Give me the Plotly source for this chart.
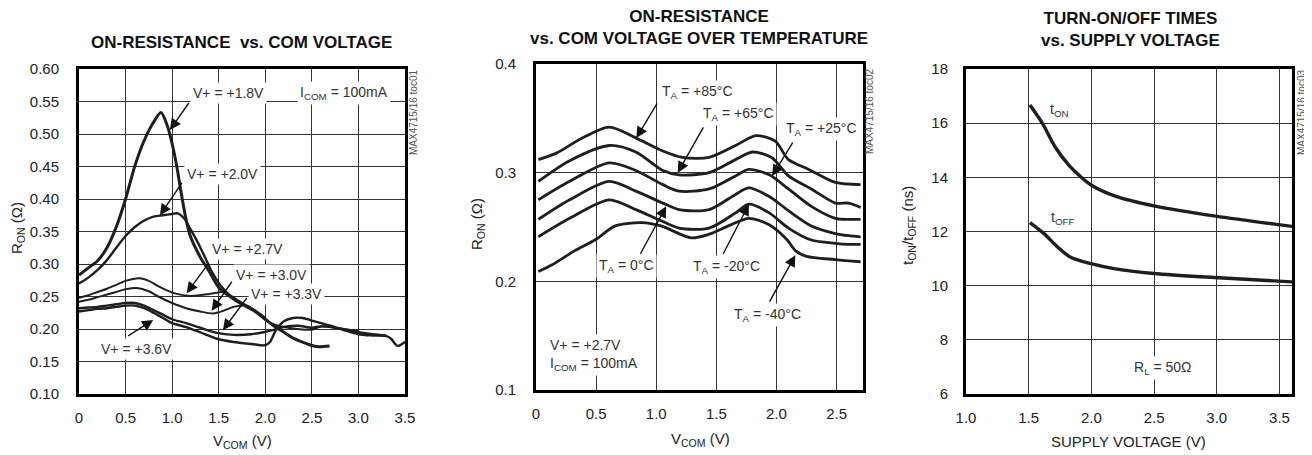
import plotly.graph_objects as go

# The page body has an 8px margin; the figure is sized/offset so the screen matches the reference.
SCREEN_W, SCREEN_H = 1312, 455
OFF = 8
W, H = SCREEN_W - OFF, SCREEN_H - OFF
FONT = "Liberation Sans, Arial, Helvetica, sans-serif"
LINE = "#1e1e1e"

# ---------------- Panel 1: ON-RESISTANCE vs. COM VOLTAGE ----------------
v18 = [0, 0.1, 0.2, 0.3, 0.4, 0.5, 0.6, 0.7, 0.8, 0.88, 0.95, 1.0, 1.05, 1.1, 1.15, 1.2, 1.3, 1.4, 1.5, 1.62, 1.75, 1.87, 2.0, 2.1, 2.2, 2.3, 2.45, 2.55, 2.69]
r18 = [0.283, 0.294, 0.305, 0.325, 0.357, 0.400, 0.451, 0.490, 0.518, 0.533, 0.512, 0.485, 0.450, 0.407, 0.368, 0.341, 0.311, 0.288, 0.264, 0.250, 0.238, 0.229, 0.215, 0.204, 0.195, 0.186, 0.177, 0.173, 0.174]

v20 = [0, 0.1, 0.2, 0.3, 0.4, 0.5, 0.6, 0.7, 0.8, 0.9, 1.0, 1.06, 1.13, 1.2, 1.28, 1.35, 1.42, 1.5, 1.55, 1.62, 1.75, 1.87, 2.0]
r20 = [0.270, 0.279, 0.291, 0.306, 0.325, 0.343, 0.357, 0.367, 0.373, 0.375, 0.377, 0.378, 0.370, 0.353, 0.332, 0.311, 0.290, 0.271, 0.262, 0.252, 0.240, 0.230, 0.217]

v27 = [0, 0.1, 0.2, 0.3, 0.4, 0.5, 0.65, 0.75, 0.85, 0.95, 1.05, 1.17, 1.3, 1.4, 1.5, 1.56]
r27 = [0.248, 0.252, 0.257, 0.262, 0.268, 0.274, 0.278, 0.274, 0.266, 0.259, 0.254, 0.251, 0.252, 0.254, 0.256, 0.258]

v30 = [0, 0.1, 0.2, 0.3, 0.4, 0.5, 0.62, 0.75, 0.85, 1.0, 1.15, 1.3, 1.44, 1.55, 1.66, 1.8, 1.95, 2.05, 2.2, 2.35, 2.5, 2.6, 2.75, 2.9, 3.0]
r30 = [0.242, 0.245, 0.249, 0.253, 0.257, 0.261, 0.263, 0.258, 0.250, 0.240, 0.232, 0.227, 0.224, 0.228, 0.234, 0.236, 0.222, 0.210, 0.203, 0.200, 0.199, 0.204, 0.202, 0.199, 0.197]

v33 = [0, 0.1, 0.2, 0.3, 0.4, 0.5, 0.6, 0.7, 0.8, 0.9, 1.0, 1.15, 1.3, 1.48, 1.66, 1.85, 1.98, 2.1, 2.2, 2.35, 2.5, 2.6, 2.75, 3.0, 3.15, 3.3]
r33 = [0.232, 0.233, 0.234, 0.236, 0.238, 0.240, 0.240, 0.236, 0.229, 0.222, 0.215, 0.209, 0.202, 0.194, 0.191, 0.192, 0.195, 0.199, 0.203, 0.205, 0.202, 0.204, 0.202, 0.195, 0.192, 0.190]

v36 = [0, 0.1, 0.2, 0.3, 0.4, 0.5, 0.6, 0.7, 0.8, 0.9, 1.0, 1.15, 1.3, 1.48, 1.66, 1.85, 2.0, 2.05, 2.12, 2.2, 2.3, 2.4, 2.5, 2.6, 2.7, 2.85, 3.0, 3.15, 3.3, 3.35, 3.42, 3.5]
r36 = [0.227, 0.229, 0.231, 0.232, 0.234, 0.236, 0.236, 0.232, 0.225, 0.217, 0.209, 0.203, 0.195, 0.185, 0.180, 0.177, 0.175, 0.180, 0.200, 0.212, 0.217, 0.217, 0.213, 0.209, 0.205, 0.198, 0.192, 0.190, 0.189, 0.185, 0.174, 0.180]

# ---------------- Panel 2: over temperature ----------------
vT = [0.02, 0.28, 0.61, 0.83, 1.055, 1.19, 1.44, 1.66, 1.77, 1.94, 2.10, 2.29, 2.49, 2.60, 2.70]
v85 = [0.02, 0.17, 0.37, 0.61, 0.83, 1.055, 1.22, 1.44, 1.66, 1.83, 1.99, 2.10, 2.27, 2.49, 2.70]
r85 = [0.312, 0.318, 0.331, 0.342, 0.332, 0.320, 0.314, 0.314, 0.325, 0.334, 0.329, 0.312, 0.303, 0.291, 0.289]
v65 = [0.02, 0.28, 0.61, 0.83, 1.055, 1.19, 1.44, 1.66, 1.80, 1.96, 2.10, 2.29, 2.49, 2.60, 2.70]
r65 = [0.292, 0.311, 0.325, 0.319, 0.302, 0.298, 0.300, 0.312, 0.319, 0.314, 0.297, 0.285, 0.272, 0.272, 0.268]
r25 = [0.275, 0.292, 0.309, 0.302, 0.289, 0.283, 0.285, 0.297, 0.303, 0.298, 0.285, 0.269, 0.258, 0.257, 0.257]
r0 = [0.257, 0.275, 0.292, 0.283, 0.272, 0.266, 0.266, 0.280, 0.286, 0.278, 0.265, 0.251, 0.244, 0.242, 0.241]
rm20 = [0.241, 0.258, 0.275, 0.266, 0.255, 0.249, 0.249, 0.263, 0.271, 0.263, 0.249, 0.238, 0.235, 0.234, 0.234]
vm40 = [0.02, 0.13, 0.32, 0.49, 0.66, 0.88, 1.04, 1.29, 1.43, 1.62, 1.77, 1.94, 2.09, 2.16, 2.25, 2.49, 2.70]
rm40 = [0.209, 0.215, 0.228, 0.238, 0.251, 0.254, 0.251, 0.240, 0.243, 0.252, 0.258, 0.252, 0.238, 0.228, 0.223, 0.220, 0.218]

# ---------------- Panel 3: turn-on/off times ----------------
v_on = [1.51, 1.61, 1.71, 1.82, 1.93, 2.0, 2.19, 2.51, 2.99, 3.6]
t_on = [16.67, 15.99, 15.13, 14.45, 13.96, 13.71, 13.31, 12.94, 12.57, 12.19]
v_off = [1.51, 1.62, 1.73, 1.83, 1.99, 2.18, 2.50, 2.98, 3.6]
t_off = [12.33, 11.93, 11.43, 11.06, 10.82, 10.63, 10.45, 10.30, 10.14]

x1_ticks = [0, 0.5, 1.0, 1.5, 2.0, 2.5, 3.0, 3.5]
x1_text = ["0", "0.5", "1.0", "1.5", "2.0", "2.5", "3.0", "3.5"]
y1_ticks = [0.10, 0.15, 0.20, 0.25, 0.30, 0.35, 0.40, 0.45, 0.50, 0.55, 0.60]
y1_text = ["0.10", "0.15", "0.20", "0.25", "0.30", "0.35", "0.40", "0.45", "0.50", "0.55", "0.60"]
x2_ticks = [0, 0.5, 1.0, 1.5, 2.0, 2.5]
x2_text = ["0", "0.5", "1.0", "1.5", "2.0", "2.5"]
y2_ticks = [0.1, 0.2, 0.3, 0.4]
y2_text = ["0.1", "0.2", "0.3", "0.4"]
x3_ticks = [1.0, 1.5, 2.0, 2.5, 3.0, 3.5]
x3_text = ["1.0", "1.5", "2.0", "2.5", "3.0", "3.5"]
y3_ticks = [6, 8, 10, 12, 14, 16, 18]
y3_text = ["6", "8", "10", "12", "14", "16", "18"]


def px(x):
    return (x - OFF) / W


def py(y):
    return 1 - (y - OFF) / H


fig = go.Figure()


def line(xs, ys, ax, width=2.2):
    fig.add_trace(go.Scatter(x=xs, y=ys, xaxis="x" + ax, yaxis="y" + ax, mode="lines",
                             line=dict(color=LINE, width=width, shape="spline", smoothing=0.8),
                             hoverinfo="skip", showlegend=False))


line(v36, r36, "", 2.4)
line(v33, r33, "", 2.4)
line(v30, r30, "", 2.0)
line(v27, r27, "", 2.0)
line(v20, r20, "", 2.4)
line(v18, r18, "", 3.0)

for xs, ys in [(v85, r85), (v65, r65), (vT, r25), (vT, r0), (vT, rm20), (vm40, rm40)]:
    line(xs, ys, "2", 2.8)

line(v_on, t_on, "3", 3.4)
line(v_off, t_off, "3", 3.4)

tickfont = dict(family=FONT, size=15, color="#222")
common = dict(showline=True, linewidth=3, linecolor="black", mirror=True, showgrid=True,
              gridcolor="#333", gridwidth=1, zeroline=False, ticks="outside",
              tickcolor="rgba(0,0,0,0)", tickfont=tickfont, fixedrange=True, automargin=False)

fig.update_layout(
    width=W, height=H, margin=dict(l=0, r=0, t=0, b=0, pad=0, autoexpand=False),
    paper_bgcolor="white", plot_bgcolor="white", showlegend=False,
    xaxis=dict(common, domain=[px(79), px(405)], range=[0, 3.5], tickvals=x1_ticks, ticktext=x1_text, ticklen=8, anchor="y"),
    yaxis=dict(common, domain=[py(394), py(69)], range=[0.1, 0.6], tickvals=y1_ticks, ticktext=y1_text, ticklen=14, anchor="x"),
    xaxis2=dict(common, domain=[px(536), px(863)], range=[0, 2.72], tickvals=x2_ticks, ticktext=x2_text, ticklen=8, anchor="y2"),
    yaxis2=dict(common, domain=[py(390), py(64)], range=[0.1, 0.4], tickvals=y2_ticks, ticktext=y2_text, ticklen=14, anchor="x2"),
    xaxis3=dict(common, domain=[px(966), px(1292)], range=[1.0, 3.6], tickvals=x3_ticks, ticktext=x3_text, ticklen=8, anchor="y3"),
    yaxis3=dict(common, domain=[py(394), py(69)], range=[6, 18], tickvals=y3_ticks, ticktext=y3_text, ticklen=12, anchor="x3"),
)

ann = []
TXT = "#333"
LBL = 14


def paper_text(text, x, y, size=15, color=TXT, bold=False, angle=0, xanchor="center"):
    ann.append(dict(text=("<b>%s</b>" % text) if bold else text, x=px(x), y=py(y), xref="paper", yref="paper",
                    showarrow=False, textangle=angle, xanchor=xanchor, yanchor="middle",
                    font=dict(family=FONT, size=size, color=color)))


def data_text(text, x, y, ax, xanchor="center", bg=True, align="center"):
    ann.append(dict(text=text, x=x, y=y, xref="x" + ax, yref="y" + ax, showarrow=False,
                    xanchor=xanchor, yanchor="middle", align=align,
                    bgcolor="white" if bg else None, borderpad=2,
                    font=dict(family=FONT, size=LBL, color=TXT)))


def arrow(hx, hy, tx, ty, ax):
    ann.append(dict(text="", x=hx, y=hy, ax=tx, ay=ty, xref="x" + ax, yref="y" + ax,
                    axref="x" + ax, ayref="y" + ax, showarrow=True, arrowhead=2,
                    arrowsize=1.6, arrowwidth=1.4, arrowcolor="#111", standoff=0, startstandoff=0))


# titles
paper_text("ON-RESISTANCE\u00a0 vs. COM VOLTAGE", 241, 42, size=17, color="#111", bold=True)
paper_text("ON-RESISTANCE<br>vs. COM VOLTAGE OVER TEMPERATURE", 699, 27.5, size=17, color="#111", bold=True)
paper_text("TURN-ON/OFF TIMES<br>vs. SUPPLY VOLTAGE", 1130, 30, size=17, color="#111", bold=True)

# axis titles
paper_text("V<sub>COM</sub> (V)", 242, 441, color="#222")
paper_text("R<sub>ON</sub> (\u03a9)", 17, 228, color="#222", angle=-90)
paper_text("V<sub>COM</sub> (V)", 700, 439, color="#222")
paper_text("R<sub>ON</sub> (\u03a9)", 477, 224, color="#222", angle=-90)
paper_text("SUPPLY VOLTAGE (V)", 1128, 441, color="#222")
paper_text("t<sub>ON</sub>/t<sub>OFF</sub> (ns)", 908, 226, color="#222", angle=-90)

# side codes
paper_text("MAX4715/16 toc01", 413, 113, size=10, color="#555", angle=-90)
paper_text("MAX4715/16 toc02", 870, 112, size=10, color="#555", angle=-90)
paper_text("MAX4715/16 toc03", 1301, 113, size=10, color="#555", angle=-90)

# panel 1 labels
data_text("V+ = +1.8V", 1.60, 0.563, "")
data_text("I<sub>COM</sub> = 100mA", 2.84, 0.563, "")
data_text("V+ = +2.0V", 1.54, 0.438, "")
data_text("V+ = +2.7V", 1.81, 0.323, "")
data_text("V+ = +3.0V", 2.07, 0.283, "")
data_text("V+ = +3.3V", 2.23, 0.254, "")
data_text("V+ = +3.6V", 0.62, 0.169, "")
arrow(0.976, 0.506, 1.19, 0.550, "")
arrow(0.869, 0.375, 1.116, 0.427, "")
arrow(1.156, 0.255, 1.406, 0.304, "")
arrow(1.424, 0.228, 1.652, 0.275, "")
arrow(1.545, 0.198, 1.813, 0.250, "")
arrow(0.797, 0.214, 0.512, 0.188, "")

# panel 2 labels
data_text("T<sub>A</sub> = +85\u00b0C", 1.343, 0.374, "2")
data_text("T<sub>A</sub> = +65\u00b0C", 1.682, 0.354, "2")
data_text("T<sub>A</sub> = +25\u00b0C", 2.372, 0.340, "2")
data_text("T<sub>A</sub> = 0\u00b0C", 0.752, 0.214, "2")
data_text("T<sub>A</sub> = -20\u00b0C", 1.587, 0.213, "2")
data_text("T<sub>A</sub> = -40\u00b0C", 1.926, 0.169, "2")
data_text("V+ = +2.7V<br>I<sub>COM</sub> = 100mA", 0.09, 0.132, "2", xanchor="left", align="left")
arrow(0.835, 0.332, 1.014, 0.365, "2")
arrow(1.179, 0.300, 1.399, 0.343, "2")
arrow(1.964, 0.297, 2.143, 0.329, "2")
arrow(1.083, 0.269, 0.862, 0.224, "2")
arrow(1.771, 0.271, 1.551, 0.224, "2")
arrow(2.157, 0.224, 1.936, 0.180, "2")

# panel 3 labels
data_text("t<sub>ON</sub>", 1.648, 16.48, "3", xanchor="left", bg=False)
data_text("t<sub>OFF</sub>", 1.650, 12.49, "3", xanchor="left", bg=False)
data_text("R<sub>L</sub> = 50\u03a9", 2.572, 6.95, "3")

fig.update_layout(annotations=ann)
fig.write_html("out.html")
